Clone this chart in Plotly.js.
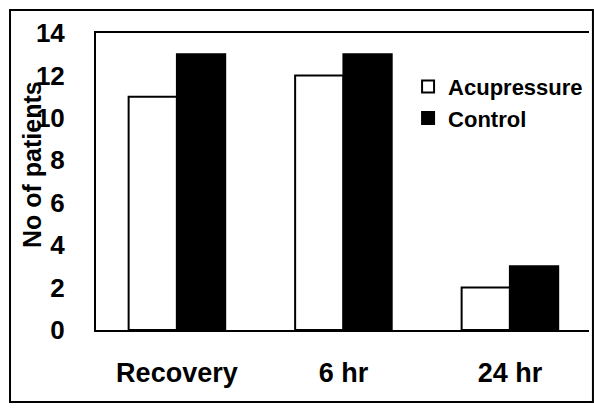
<!DOCTYPE html>
<html>
<head>
<meta charset="utf-8">
<script src="https://cdn.plot.ly/plotly-3.0.1.min.js"></script>
<style>html,body{margin:0;padding:0;background:#fff;}#chart{width:594px;height:409px;}</style>
</head>
<body>
<div id="chart"></div>
<script>
const categories = ["Recovery", "6 hr", "24 hr"];
const acupressure = [11, 12, 2];
const control = [13, 13, 3];
const yTicks = [0, 2, 4, 6, 8, 10, 12, 14];

const FONT = "Liberation Sans, Arial, sans-serif";

const data = [
  {type: "bar", name: "Acupressure", x: categories, y: acupressure,
   marker: {color: "#ffffff", line: {color: "#000000", width: 2}}},
  {type: "bar", name: "Control", x: categories, y: control,
   marker: {color: "#000000", line: {color: "#000000", width: 2}}}
];

const layout = {
  width: 594, height: 409,
  margin: {l: 96, r: 5, t: 33, b: 79},
  paper_bgcolor: "#ffffff", plot_bgcolor: "#ffffff",
  barmode: "group", bargap: 0.42, bargroupgap: 0,
  showlegend: true,
  legend: {x: 0.633, y: 0.89, xanchor: "left", yanchor: "top",
           font: {family: FONT, size: 22, color: "#000", weight: "bold"}, bgcolor: "rgba(0,0,0,0)",
           tracegroupgap: 0},
  xaxis: {range: [-0.486, 2.475], showgrid: false, zeroline: false,
          showline: true, linecolor: "#000", linewidth: 2, mirror: true,
          ticks: "", ticklabelstandoff: 18,
          tickfont: {family: FONT, size: 27, color: "#000", weight: "bold"}},
  yaxis: {range: [0, 14], tickvals: yTicks, showgrid: false, zeroline: false,
          showline: true, linecolor: "#000", linewidth: 2,
          ticks: "", ticklabelstandoff: 24,
          tickfont: {family: FONT, size: 26, color: "#000", weight: "bold"}},
  annotations: [
    {text: "<b>No of patients</b>", xref: "paper", yref: "paper",
     x: -0.1298, y: 0.5556, xanchor: "center", yanchor: "middle",
     textangle: -90, showarrow: false,
     font: {family: FONT, size: 25, color: "#000"}}
  ],
  shapes: [
    {type: "rect", xref: "paper", yref: "paper",
     x0: -0.1744, x1: 1.008, y0: -0.2424, y1: 1.0774,
     line: {color: "#000", width: 2}, fillcolor: "rgba(0,0,0,0)", layer: "below"}
  ]
};

Plotly.newPlot("chart", data, layout, {displayModeBar: false, staticPlot: true});
</script>
</body>
</html>
